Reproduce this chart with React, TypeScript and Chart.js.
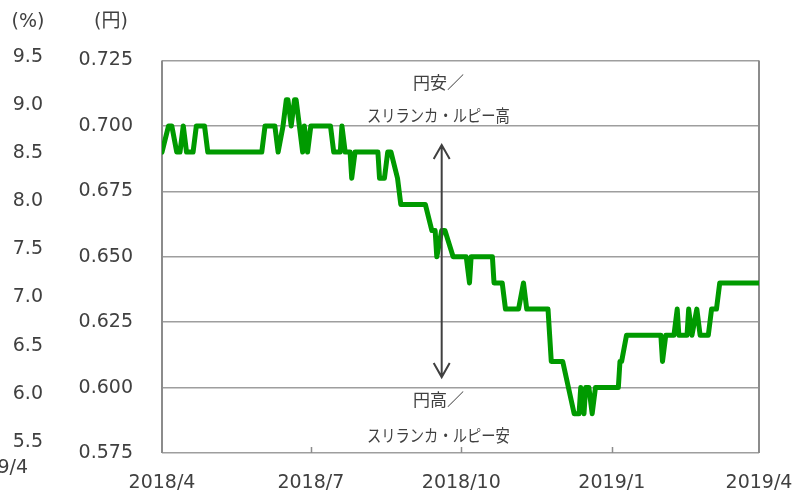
import React, { useEffect, useRef } from "react";
import { Chart, registerables } from "chart.js";

Chart.register(...registerables);

// Exchange rate JPY per LKR (rounded to 0.01), change points
const dates = [
  "2018-04-01", "2018-04-05", "2018-04-07", "2018-04-10", "2018-04-12", "2018-04-14", "2018-04-16",
  "2018-04-20", "2018-04-22", "2018-04-27", "2018-04-29", "2018-06-01", "2018-06-03", "2018-06-09",
  "2018-06-11", "2018-06-14", "2018-06-16", "2018-06-17", "2018-06-19", "2018-06-21", "2018-06-22",
  "2018-06-26", "2018-06-27", "2018-06-29", "2018-07-01", "2018-07-13", "2018-07-15", "2018-07-19",
  "2018-07-20", "2018-07-22", "2018-07-25", "2018-07-26", "2018-07-28", "2018-08-11", "2018-08-12",
  "2018-08-15", "2018-08-17", "2018-08-19", "2018-08-23", "2018-08-25", "2018-09-09", "2018-09-13",
  "2018-09-15", "2018-09-16", "2018-09-19", "2018-09-21", "2018-09-26", "2018-10-04", "2018-10-06",
  "2018-10-07", "2018-10-20", "2018-10-21", "2018-10-26", "2018-10-28", "2018-11-05", "2018-11-08",
  "2018-11-10", "2018-11-23", "2018-11-24", "2018-11-25", "2018-12-02", "2018-12-09", "2018-12-12",
  "2018-12-13", "2018-12-15", "2018-12-16", "2018-12-18", "2018-12-20", "2018-12-22", "2019-01-05",
  "2019-01-06", "2019-01-07", "2019-01-10", "2019-01-31", "2019-02-01", "2019-02-03", "2019-02-08",
  "2019-02-10", "2019-02-11", "2019-02-16", "2019-02-17", "2019-02-19", "2019-02-22", "2019-02-24",
  "2019-03-01", "2019-03-03", "2019-03-06", "2019-03-08", "2019-04-01",
];
const rates = [
  0.69, 0.70, 0.70, 0.69, 0.69, 0.70, 0.69,
  0.69, 0.70, 0.70, 0.69, 0.69, 0.70, 0.70,
  0.69, 0.70, 0.71, 0.71, 0.70, 0.71, 0.71,
  0.69, 0.70, 0.69, 0.70, 0.70, 0.69, 0.69,
  0.70, 0.69, 0.69, 0.68, 0.69, 0.69, 0.68,
  0.68, 0.69, 0.69, 0.68, 0.67, 0.67, 0.66,
  0.66, 0.65, 0.66, 0.66, 0.65, 0.65, 0.64,
  0.65, 0.65, 0.64, 0.64, 0.63, 0.63, 0.64,
  0.63, 0.63, 0.62, 0.61, 0.61, 0.59, 0.59,
  0.60, 0.59, 0.60, 0.60, 0.59, 0.60, 0.60,
  0.61, 0.61, 0.62, 0.62, 0.61, 0.62, 0.62,
  0.63, 0.62, 0.62, 0.63, 0.62, 0.63, 0.62,
  0.62, 0.63, 0.63, 0.64, 0.64,
];

const xTickDates = ["2018-04-01", "2018-07-01", "2018-10-01", "2019-01-01", "2019-04-01"];
const xTickLabels = ["2018/4", "2018/7", "2018/10", "2019/1", "2019/4"];
const yenTicks = [0.575, 0.6, 0.625, 0.65, 0.675, 0.7, 0.725];
const pctTicks = [5.5, 6.0, 6.5, 7.0, 7.5, 8.0, 8.5, 9.0, 9.5];
const upLabel = ["円安／", "スリランカ・ルピー高"];
const downLabel = ["円高／", "スリランカ・ルピー安"];
const yenUnit = "(円)";
const pctUnit = "(%)";
const strayLabel = "2019/4";

const BASE = Date.UTC(2018, 3, 1);
const dayOf = (s: string) => {
  const [y, m, d] = s.split("-").map(Number);
  return Math.round((Date.UTC(y, m - 1, d) - BASE) / 86400000);
};

const TEXT = "#404040";
const GRID = "#9e9e9e";
const FONT = "DejaVu Sans, Verdana, sans-serif";
const JFONT = "'Noto Sans CJK JP', sans-serif";

const arrowDay = dayOf("2018-09-19");
const textDay = dayOf("2018-09-17");

const decor = {
  id: "decor",
  beforeDatasetsDraw(chart: any) {
    const { ctx, chartArea } = chart;
    const x = chart.scales.x;
    ctx.save();
    ctx.strokeStyle = "#8c8c8c";
    ctx.lineWidth = 2;
    ctx.beginPath();
    ctx.moveTo(chartArea.left, chartArea.top);
    ctx.lineTo(chartArea.left, chartArea.bottom);
    ctx.moveTo(chartArea.right, chartArea.top);
    ctx.lineTo(chartArea.right, chartArea.bottom);
    ctx.stroke();
    ctx.lineWidth = 1.5;
    ctx.beginPath();
    xTickDates.slice(1, -1).forEach((d) => {
      const px = Math.round(x.getPixelForValue(dayOf(d))) + 0.5;
      ctx.moveTo(px, chartArea.bottom);
      ctx.lineTo(px, chartArea.bottom - 6);
    });
    ctx.stroke();
    ctx.restore();
  },
  afterDatasetsDraw(chart: any) {
    const { ctx } = chart;
    const x = chart.scales.x;
    const y = chart.scales.y;
    const ax = x.getPixelForValue(arrowDay);
    const top = y.getPixelForValue(0.6927);
    const bot = y.getPixelForValue(0.604);
    ctx.save();
    ctx.strokeStyle = TEXT;
    ctx.lineWidth = 2;
    ctx.lineJoin = "miter";
    ctx.beginPath();
    ctx.moveTo(ax, top);
    ctx.lineTo(ax, bot);
    ctx.moveTo(ax - 8, top + 14);
    ctx.lineTo(ax, top);
    ctx.lineTo(ax + 8, top + 14);
    ctx.moveTo(ax - 8, bot - 14);
    ctx.lineTo(ax, bot);
    ctx.lineTo(ax + 8, bot - 14);
    ctx.stroke();

    const tx = x.getPixelForValue(textDay);
    ctx.fillStyle = TEXT;
    ctx.font = `17px ${JFONT}`;
    ctx.textAlign = "center";
    ctx.textBaseline = "middle";
    ctx.fillText(upLabel[0], tx, y.getPixelForValue(0.7164));
    ctx.fillText(upLabel[1], tx, y.getPixelForValue(0.7038), 143);
    ctx.fillText(downLabel[0], tx, y.getPixelForValue(0.5953));
    ctx.fillText(downLabel[1], tx, y.getPixelForValue(0.5815), 143);

    ctx.font = `19px ${FONT}, ${JFONT}`;
    ctx.fillText(pctUnit, 28, 22);
    ctx.fillText(yenUnit, 111, 22);
    ctx.textAlign = "right";
    ctx.fillText(strayLabel, 28, 468);
    ctx.restore();
  },
};

export default function App() {
  const ref = useRef<HTMLCanvasElement | null>(null);
  useEffect(() => {
    if (!ref.current) return;
    const tickFont = { family: FONT, size: 19 };
    const chart = new Chart(ref.current, {
      type: "line",
      data: {
        datasets: [
          {
            data: dates.map((d, i) => ({ x: dayOf(d), y: rates[i] })),
            borderColor: "#009a00",
            borderWidth: 5,
            pointRadius: 0,
            borderJoinStyle: "round",
            borderCapStyle: "round",
            tension: 0,
            yAxisID: "y",
          },
        ],
      },
      options: {
        responsive: false,
        animation: false,
        devicePixelRatio: 1,
        layout: { padding: { left: 0, top: 60.5, right: 36, bottom: 0 } },
        plugins: { legend: { display: false }, tooltip: { enabled: false } },
        scales: {
          x: {
            type: "linear",
            min: 0,
            max: dayOf(xTickDates[xTickDates.length - 1]),
            afterBuildTicks: (s: any) => {
              s.ticks = xTickDates.map((d) => ({ value: dayOf(d) }));
            },
            afterFit: (s: any) => {
              s.height = 39;
              s.paddingLeft = 0;
              s.paddingRight = 0;
            },
            ticks: {
              autoSkip: false,
              maxRotation: 0,
              padding: 11,
              color: TEXT,
              font: tickFont,
              callback: (_v: any, i: number) => xTickLabels[i],
            },
            grid: { display: false },
            border: { display: false },
          },
          y: {
            type: "linear",
            position: "left",
            weight: 0,
            min: 0.575,
            max: 0.725,
            afterBuildTicks: (s: any) => {
              s.ticks = yenTicks.map((v) => ({ value: v }));
            },
            afterFit: (s: any) => {
              s.width = 102;
              s.paddingTop = 0;
              s.paddingBottom = 0;
            },
            ticks: {
              autoSkip: false,
              padding: 29,
              color: TEXT,
              font: tickFont,
              callback: (v: any) => Number(v).toFixed(3),
            },
            grid: { color: GRID, lineWidth: 1.5, drawTicks: false },
            border: { display: false },
          },
          y2: {
            type: "linear",
            position: "left",
            weight: 1,
            min: 5.382,
            max: 9.467,
            afterBuildTicks: (s: any) => {
              s.ticks = pctTicks.map((v) => ({ value: v }));
            },
            afterFit: (s: any) => {
              s.width = 60;
              s.paddingTop = 0;
              s.paddingBottom = 0;
            },
            ticks: {
              autoSkip: false,
              padding: 17,
              color: TEXT,
              font: tickFont,
              callback: (v: any) => Number(v).toFixed(1),
            },
            grid: { display: false, drawTicks: false },
            border: { display: false },
          },
        },
      },
      plugins: [decor],
    } as any);
    return () => chart.destroy();
  }, []);
  return (
    <div style={{ position: "fixed", left: 0, top: 0, width: 795, height: 492, background: "#fff", overflow: "hidden" }}>
      <canvas ref={ref} width={795} height={492} style={{ display: "block" }} />
    </div>
  );
}
